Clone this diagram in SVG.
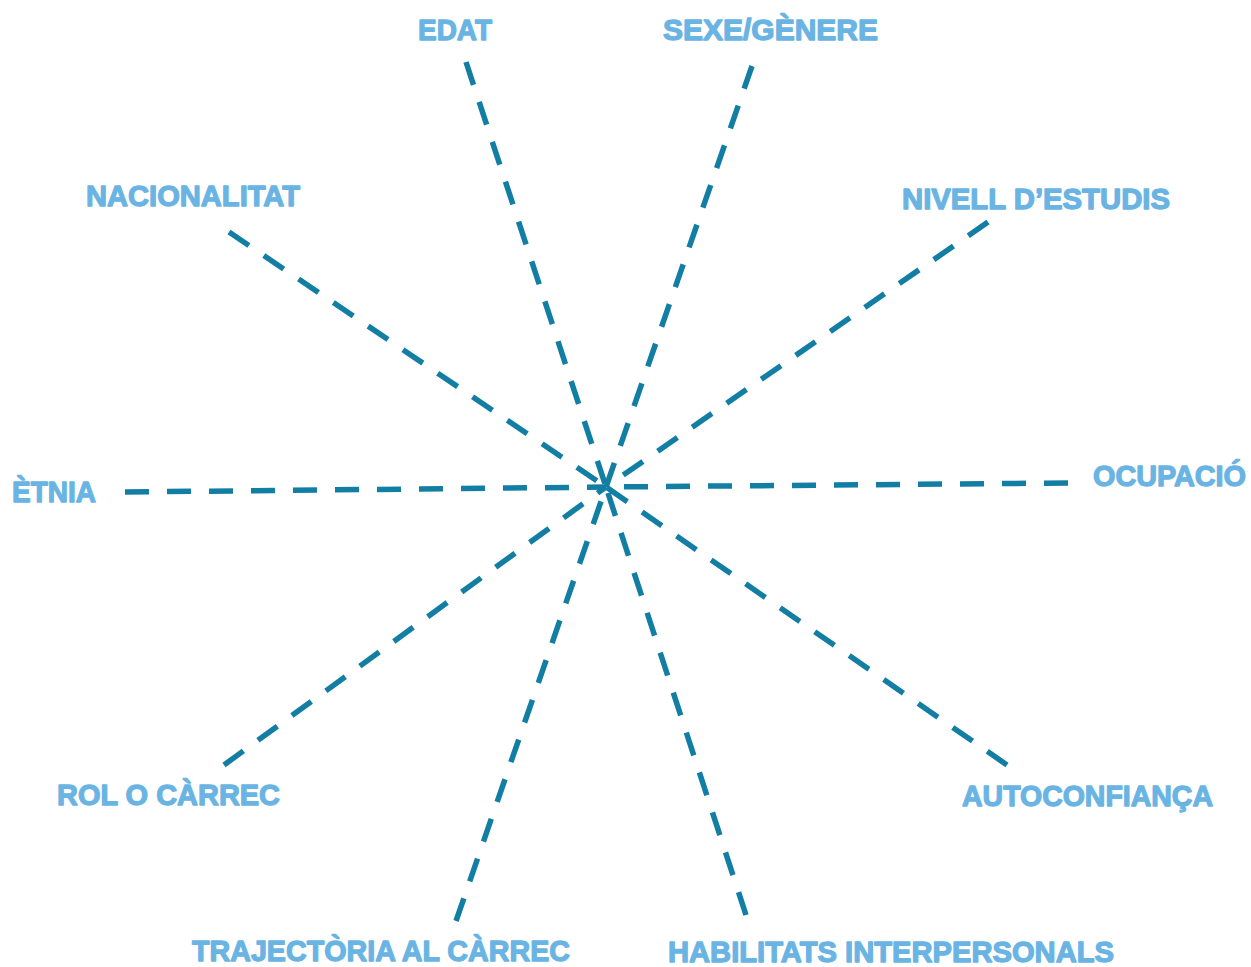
<svg xmlns="http://www.w3.org/2000/svg" width="1251" height="967" viewBox="0 0 1251 967">
<style>
.lbl{font-family:"Liberation Sans",Arial,sans-serif;font-weight:bold;font-size:30px;fill:#6ab4e4;stroke:#6ab4e4;stroke-width:1.3px;stroke-linejoin:round}
.cond{font-size:30px}
.ray{stroke:#137ea4;stroke-width:5.5;stroke-dasharray:24 18;fill:none}
</style>
<rect width="1251" height="967" fill="#ffffff"/>
<g id="connectors">
<line class="ray" x1="466" y1="62" x2="606" y2="487"/>
<line class="ray" x1="752" y1="66" x2="606" y2="487"/>
<line class="ray" x1="988" y1="222" x2="606" y2="487"/>
<line class="ray" x1="1068" y1="483" x2="606" y2="487"/>
<line class="ray" x1="1007" y1="765" x2="606" y2="487"/>
<line class="ray" x1="746" y1="915" x2="606" y2="487"/>
<line class="ray" x1="456" y1="921" x2="606" y2="487"/>
<line class="ray" x1="224" y1="765" x2="606" y2="487"/>
<line class="ray" x1="125" y1="492" x2="606" y2="487"/>
<line class="ray" x1="229" y1="232" x2="606" y2="487"/>
</g>
<g id="edat"><text class="lbl" x="418" y="40" textLength="74" lengthAdjust="spacingAndGlyphs">EDAT</text></g>
<g id="sexe"><text class="lbl" x="663" y="40" textLength="215" lengthAdjust="spacingAndGlyphs">SEXE/GÈNERE</text></g>
<g id="nacionalitat"><text class="lbl" x="86" y="206" textLength="214" lengthAdjust="spacingAndGlyphs">NACIONALITAT</text></g>
<g id="nivell"><text class="lbl" x="902" y="209" textLength="268" lengthAdjust="spacingAndGlyphs">NIVELL D’ESTUDIS</text></g>
<g id="etnia"><text class="lbl" x="12" y="502" textLength="84" lengthAdjust="spacingAndGlyphs">ÈTNIA</text></g>
<g id="ocupacio"><text class="lbl" x="1093" y="486" textLength="153" lengthAdjust="spacingAndGlyphs">OCUPACIÓ</text></g>
<g id="rol"><text class="lbl" x="57" y="805" textLength="223" lengthAdjust="spacingAndGlyphs">ROL O CÀRREC</text></g>
<g id="autoconfianca"><text class="lbl" x="962" y="806" textLength="251" lengthAdjust="spacingAndGlyphs">AUTOCONFIANÇA</text></g>
<g id="trajectoria"><text class="lbl cond" x="192" y="961" textLength="378" lengthAdjust="spacingAndGlyphs">TRAJECTÒRIA AL CÀRREC</text></g>
<g id="habilitats"><text class="lbl cond" x="668" y="962" textLength="446" lengthAdjust="spacingAndGlyphs">HABILITATS INTERPERSONALS</text></g>
</svg>
